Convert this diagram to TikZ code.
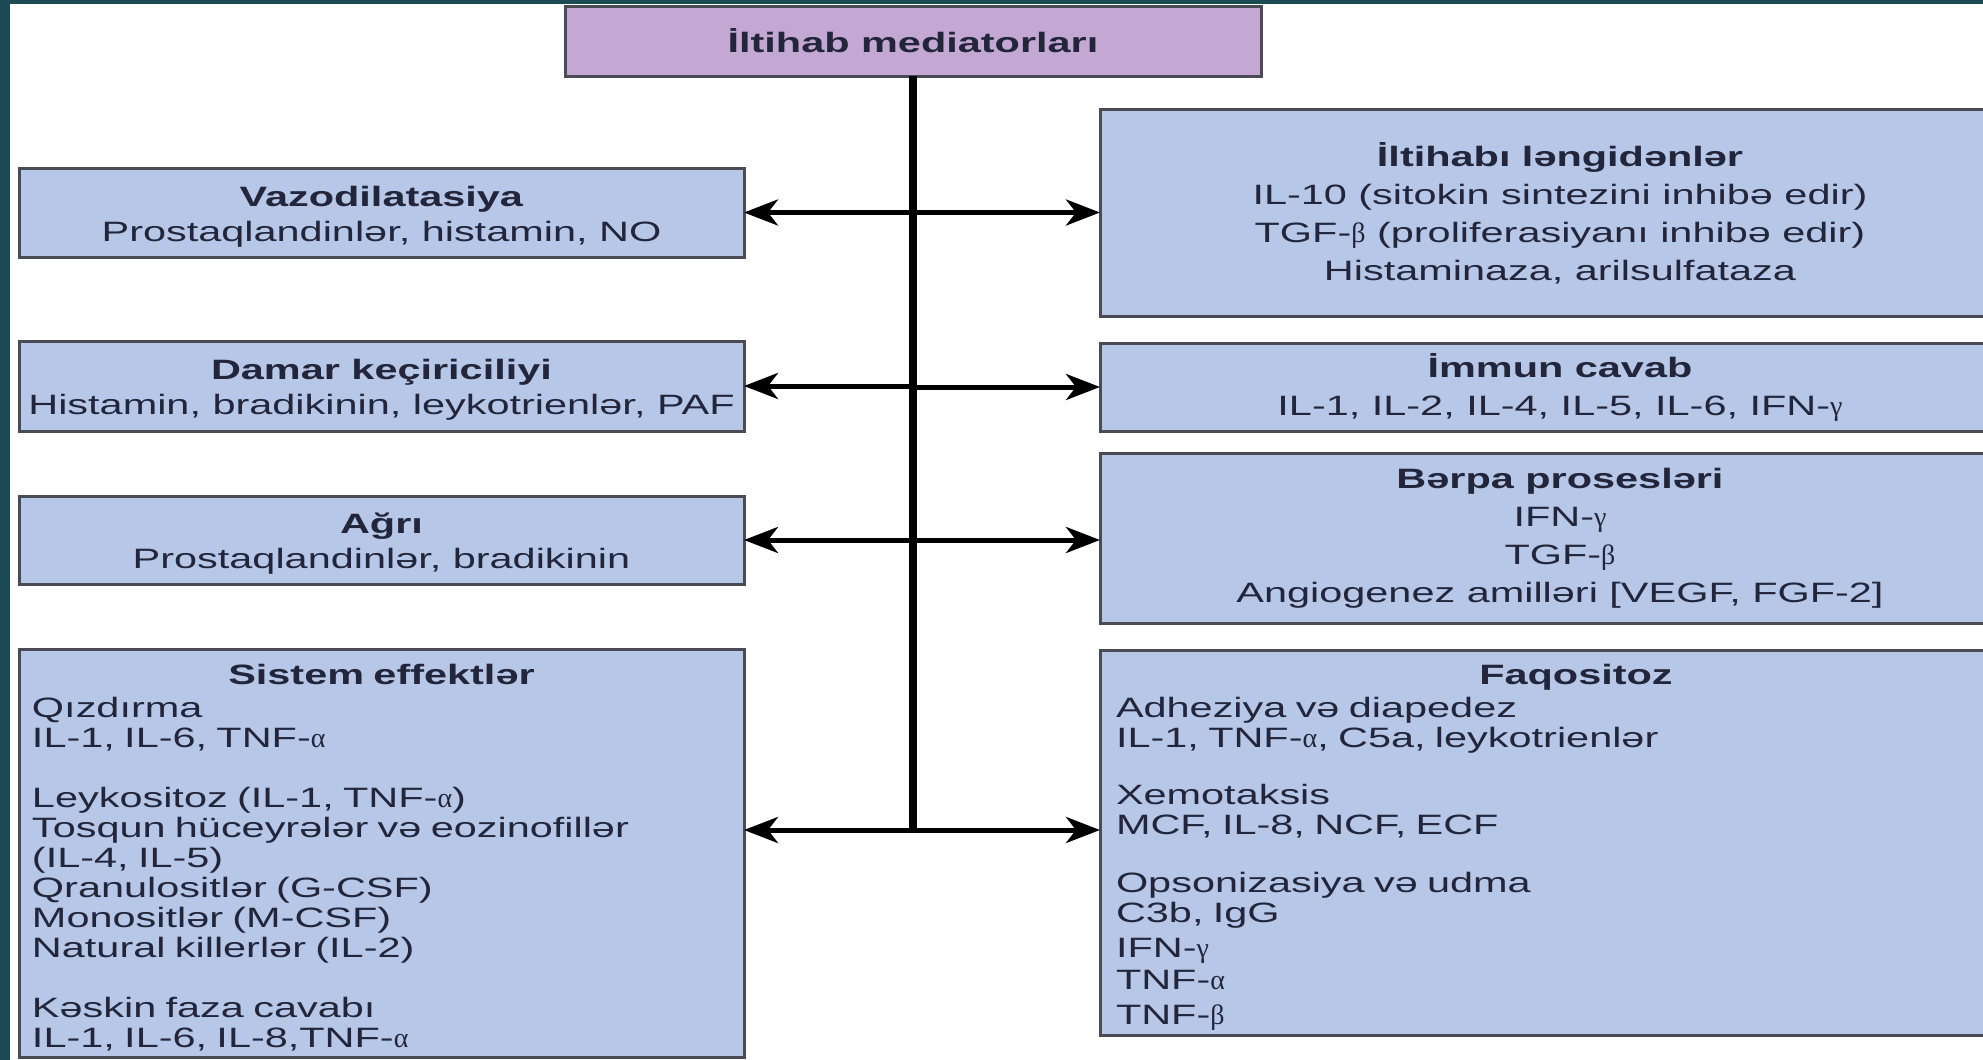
\documentclass[tikz,border=0pt]{standalone}
\usepackage{fontspec}
\setmainfont{Liberation Sans}[FakeStretch=1.48]
\newfontfamily\grkfont{Liberation Serif}
\usepackage{tikz}
\usetikzlibrary{arrows.meta,positioning}
\definecolor{frameteal}{HTML}{1C4A55}
\definecolor{boxfill}{HTML}{B7C7E8}
\definecolor{headfill}{HTML}{C3A8D3}
\definecolor{edge}{HTML}{4B4B55}
\definecolor{ink}{HTML}{23263A}
\newcommand{\grk}[1]{{\grkfont #1}}
\newcommand{\boxtitle}[2][14pt]{\rule{0pt}{#1}\textbf{#2}}

\begin{document}
\begin{tikzpicture}[
  x=0.5pt,y=-0.5pt,
  medbox/.style={draw=edge,line width=1.5pt,fill=boxfill,text=ink,inner xsep=3pt,inner ysep=0pt,outer sep=0pt,align=center,font=\fontsize{14}{18.5}\selectfont},
  leftbox/.style={medbox,minimum width=362.5pt,font=\fontsize{14}{17.5}\selectfont},
  rightbox/.style={medbox,minimum width=460pt,font=\fontsize{14}{19}\selectfont},
  listbox/.style={align=left,font=\fontsize{14}{15}\selectfont},
  headbox/.style={medbox,fill=headfill,minimum width=348pt,minimum height=35pt},
  arr/.style={-{Stealth[length=17pt,width=13pt,inset=5pt]},line width=2.5pt,draw=black},
  trunk/.style={line width=4pt,draw=black}
]
\useasboundingbox (0,0) rectangle (1983,1060);
\clip (0,0) rectangle (1983,1060);
\fill[frameteal] (0,0) rectangle (10,1060);
\fill[frameteal] (0,0) rectangle (1983,4);

\node[headbox] (head) at (913,41) {\textbf{İltihab mediatorları}};

\node[leftbox,minimum height=44.5pt,anchor=north west] (vazo) at (19,168) {\boxtitle{Vazodilatasiya}\\Prostaqlandinlər, histamin, NO};
\node[leftbox,minimum height=45pt,below=42pt of vazo] (damar) {\boxtitle{Damar keçiriciliyi}\\Histamin, bradikinin, leykotrienlər, PAF};
\node[leftbox,minimum height=44pt,below=32.5pt of damar] (agri) {\boxtitle{Ağrı}\\Prostaqlandinlər, bradikinin};
\node[leftbox,listbox,minimum height=204pt,inner xsep=6.5pt,text width=349.5pt,below=32.5pt of agri] (sistem) {\makebox[\hsize]{\boxtitle[15pt]{Sistem effektlər}}\\[1.5pt]
Qızdırma\\
IL-1, IL-6, TNF-\grk{α}\\[15pt]
Leykositoz (IL-1, TNF-\grk{α})\\
Tosqun hüceyrələr və eozinofillər\\
(IL-4, IL-5)\\
Qranulositlər (G-CSF)\\
Monositlər (M-CSF)\\
Natural killerlər (IL-2)\\[15pt]
Kəskin faza cavabı\\
IL-1, IL-6, IL-8,TNF-\grk{α}};

\node[rightbox,minimum height=103.5pt,anchor=north west] (lengid) at (1100,109) {\boxtitle[13pt]{İltihabı ləngidənlər}\\IL-10 (sitokin sintezini inhibə edir)\\TGF-\grk{β} (proliferasiyanı inhibə edir)\\Histaminaza, arilsulfataza};
\node[rightbox,minimum height=44pt,below=13.5pt of lengid] (immun) {\boxtitle[12pt]{İmmun cavab}\\IL-1, IL-2, IL-4, IL-5, IL-6, IFN-\grk{γ}};
\node[rightbox,minimum height=85pt,below=11pt of immun] (berpa) {\textbf{Bərpa prosesləri}\\IFN-\grk{γ}\\TGF-\grk{β}\\Angiogenez amilləri [VEGF, FGF-2]};
\node[rightbox,listbox,minimum height=192.5pt,inner xsep=8pt,text width=444pt,below=13.5pt of berpa] (faqo) {\makebox[\hsize]{\hspace{16pt}\boxtitle[15pt]{Faqositoz}}\\[1.5pt]
Adheziya və diapedez\\
IL-1, TNF-\grk{α}, C5a, leykotrienlər\\[13.5pt]
Xemotaksis\\
MCF, IL-8, NCF, ECF\\[14pt]
Opsonizasiya və udma\\
C3b, IgG\\[2.5pt]
IFN-\grk{γ}\\[1pt]
TNF-\grk{α}\\[2.5pt]
TNF-\grk{β}};

\coordinate (low) at (913,830);
\draw[trunk] (head.south) -- (low);
\draw[arr] (head.south |- vazo.east) -- (vazo.east); \draw[arr] (head.south |- lengid.west) -- (lengid.west);
\draw[arr] (head.south |- damar.east) -- (damar.east); \draw[arr] (head.south |- immun.west) -- (immun.west);
\draw[arr] (head.south |- agri.east) -- (agri.east); \draw[arr] (head.south |- agri.east) -- (head.south |- agri.east -| berpa.west);
\draw[arr] (low) -- (low -| sistem.east); \draw[arr] (low) -- (low -| faqo.west);
\end{tikzpicture}
\end{document}
